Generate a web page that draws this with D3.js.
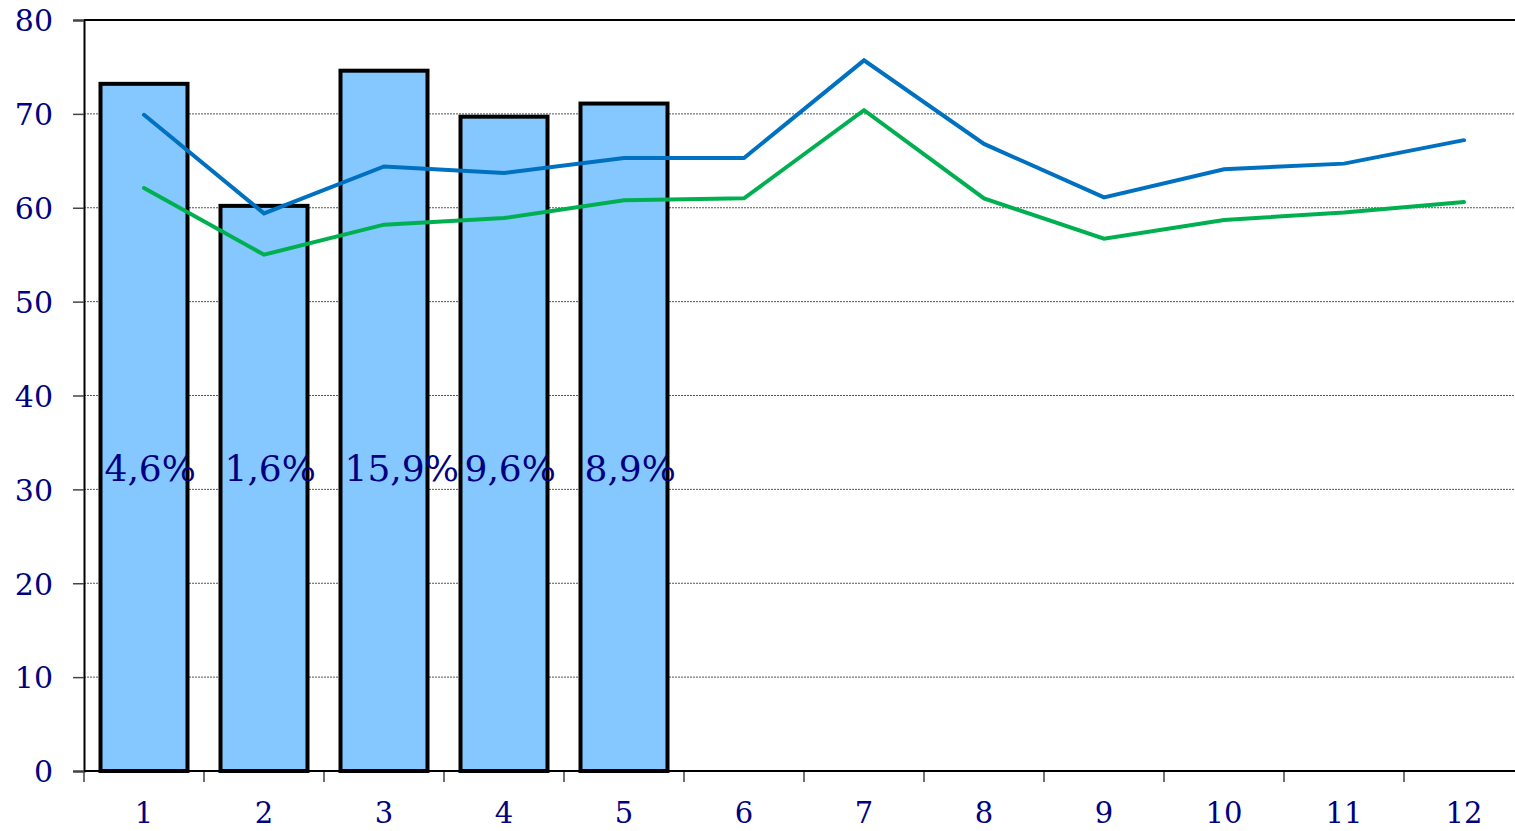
<!DOCTYPE html>
<html><head><meta charset="utf-8">
<script src="https://cdnjs.cloudflare.com/ajax/libs/d3/7.8.5/d3.min.js"></script>
<style>html,body{margin:0;padding:0;background:#fff;overflow:hidden}</style>
</head><body><svg id="c" width="1515" height="831"></svg>
<script>
const categories = ["1","2","3","4","5","6","7","8","9","10","11","12"];
const barValues = [73.2, 60.2, 74.6, 69.7, 71.1];
const barLabels = ["4,6%", "1,6%", "15,9%", "9,6%", "8,9%"];
const blueLine = [69.9, 59.4, 64.4, 63.7, 65.3, 65.3, 75.7, 66.8, 61.1, 64.1, 64.7, 67.2];
const greenLine = [62.1, 55.0, 58.2, 58.9, 60.8, 61.0, 70.4, 61.0, 56.7, 58.7, 59.5, 60.6];
const yTicks = [0, 10, 20, 30, 40, 50, 60, 70, 80];

const svg = d3.select("#c");
const L = 84, R = 1524, T = 20, B = 771;
const x = d3.scaleBand().domain(categories).range([L, R]).padding(0);
const y = d3.scaleLinear().domain([0, 80]).range([B, T]);
const navy = "#000080";
const font = "'DejaVu Serif', Georgia, serif";

// gridlines
svg.append("g").selectAll("line").data(yTicks.filter(d => d > 0 && d < 80)).join("line")
  .attr("x1", L).attr("x2", 1515).attr("y1", d => y(d)).attr("y2", d => y(d))
  .attr("stroke", "#555").attr("stroke-width", 1).attr("stroke-dasharray", "2,1");

// y axis
const yAxis = d3.axisLeft(y).tickValues(yTicks).tickSize(11).tickPadding(20).tickFormat(d3.format("d"));
const yg = svg.append("g").attr("transform", `translate(${L},0)`).call(yAxis);
yg.select(".domain").attr("stroke", "#000").attr("stroke-width", 2);
yg.selectAll(".tick line").attr("stroke", "#444").attr("stroke-width", 1.5);
yg.selectAll(".tick text").attr("fill", navy).style("font-family", font).style("font-size", "30px").attr("dy", "0.36em");

// top border
svg.append("line").attr("x1", L).attr("x2", 1515).attr("y1", T).attr("y2", T).attr("stroke", "#000").attr("stroke-width", 2);

// x axis
const xTickPos = d3.range(categories.length + 1).map(i => L + i * x.bandwidth());
svg.append("g").selectAll("line").data(xTickPos).join("line")
  .attr("x1", d => d).attr("x2", d => d).attr("y1", B).attr("y2", B + 11)
  .attr("stroke", "#444").attr("stroke-width", 1.5);
const xAxis = d3.axisBottom(x).tickSize(0).tickPadding(31);
const xg = svg.append("g").attr("transform", `translate(0,${B})`).call(xAxis);
xg.select(".domain").remove();
xg.selectAll(".tick text").attr("fill", navy).style("font-family", font).style("font-size", "29px").attr("dy", "0.71em");

// bars
const bw = x.bandwidth() * 0.725;
svg.append("g").selectAll("rect").data(barValues).join("rect")
  .attr("x", (d, i) => x(categories[i]) + (x.bandwidth() - bw) / 2)
  .attr("y", d => y(d))
  .attr("width", bw)
  .attr("height", d => y(0) - y(d))
  .attr("fill", "#85C8FF").attr("stroke", "#000").attr("stroke-width", 4);

svg.append("line").attr("x1", L).attr("x2", 1515).attr("y1", B).attr("y2", B).attr("stroke", "#000").attr("stroke-width", 2);

// lines
const line = d3.line().x((d, i) => x(categories[i]) + x.bandwidth() / 2).y(d => y(d));
svg.append("path").datum(greenLine).attr("d", line).attr("fill", "none").attr("stroke", "#00B050").attr("stroke-width", 4).attr("stroke-linecap", "round");
svg.append("path").datum(blueLine).attr("d", line).attr("fill", "none").attr("stroke", "#0070C0").attr("stroke-width", 4).attr("stroke-linecap", "round");

// bar labels
svg.append("g").selectAll("text").data(barLabels).join("text")
  .attr("x", (d, i) => x(categories[i]) + (x.bandwidth() - bw) / 2 + 4)
  .attr("y", y(30) - 8)
  .attr("text-anchor", "start")
  .attr("fill", navy).style("font-family", font).style("font-size", "36px")
  .text(d => d);
</script></body></html>
